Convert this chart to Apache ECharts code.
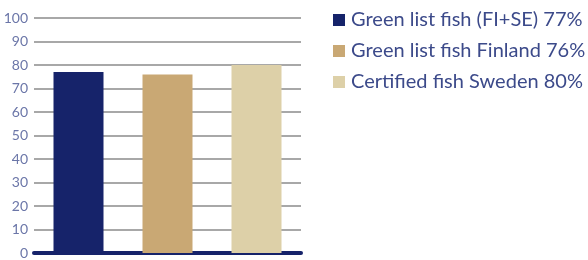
<!DOCTYPE html>
<html>
<head>
<meta charset="utf-8">
<script src="https://cdn.jsdelivr.net/npm/echarts@6/dist/echarts.min.js"></script>
<style>
  html, body { margin: 0; padding: 0; background: #fff; }
  #chart { width: 588px; height: 260px; }
</style>
</head>
<body>
<div id="chart"></div>
<script>
var categories = ['Green list fish (FI+SE)', 'Green list fish Finland', 'Certified fish Sweden'];
var values = [77, 76, 80];
var legendNames = ['Green list fish (FI+SE) 77%', 'Green list fish Finland 76%', 'Certified fish Sweden 80%'];
var colors = ['#16236a', '#c9a874', '#ddd0a8'];
var yTicks = [0, 10, 20, 30, 40, 50, 60, 70, 80, 90, 100];

var chart = echarts.init(document.getElementById('chart'));

// one series per bar so each gets its own legend entry
var series = values.map(function (v, i) {
    var data = categories.map(function (c, j) { return j === i ? v : '-'; });
    return {
        name: legendNames[i],
        type: 'bar',
        stack: 'all',
        barWidth: 50,
        data: data,
        itemStyle: { color: colors[i] }
    };
});

chart.setOption({
    animation: false,
    textStyle: { fontFamily: 'Lato' },
    legend: {
        orient: 'vertical',
        left: 328,
        top: 5,
        icon: 'rect',
        itemWidth: 12,
        itemHeight: 12,
        itemGap: 11,
        itemStyle: { borderWidth: 0 },
        textStyle: { fontSize: 20, color: '#3c4a8a', fontFamily: 'Lato', padding: [0, 0, 0, 1] },
        data: legendNames
    },
    grid: { left: 34, right: 287, top: 18, bottom: 7 },
    xAxis: {
        type: 'category',
        data: categories,
        axisLine: { lineStyle: { color: '#16236a', width: 4 } },
        axisTick: { show: false },
        axisLabel: { show: false }
    },
    yAxis: {
        type: 'value',
        min: yTicks[0],
        max: yTicks[yTicks.length - 1],
        interval: 10,
        axisLine: { show: false },
        axisTick: { show: false },
        axisLabel: { margin: 6, fontSize: 14, color: '#6b76a8', fontFamily: 'Lato' },
        splitLine: { lineStyle: { color: '#a8a8a8', width: 2 } }
    },
    series: series
});
</script>
</body>
</html>
